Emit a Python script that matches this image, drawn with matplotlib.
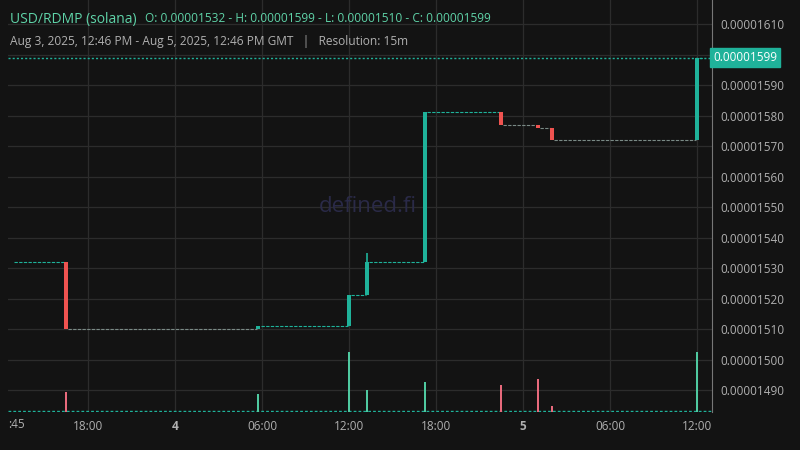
import matplotlib
matplotlib.use("Agg")
import matplotlib.pyplot as plt
import numpy as np

# hours relative to Aug 4 2025 00:00 GMT; prices in units of 1e-8
trade_t = [-7.5, 5.75, 12.0, 13.25, 17.25, 22.5, 25.0, 26.0, 36.0]
trade_o = [1532, 1510, 1511, 1521, 1532, 1581, 1577, 1576, 1572]
trade_c = [1510, 1511, 1521, 1532, 1581, 1577, 1576, 1572, 1599]
trade_h = [1532, 1511, 1521, 1535, 1581, 1581, 1577, 1576, 1599]
trade_l = [1510, 1510, 1511, 1521, 1532, 1577, 1576, 1572, 1572]
trade_v = [20, 18, 60, 22, 30, 27, 33, 6, 60]
start_t, end_t = -11.25, 36.5
start_price = 1532
tick_pos = [-6, 0, 6, 12, 18, 24, 30, 36]
tick_lab = ["18:00", "4", "06:00", "12:00", "18:00", "5", "06:00", "12:00"]
price_ticks = list(range(1490, 1611, 10))

BG = "#131313"; GREEN = "#1fb29a"; RED = "#ef5350"
VGREEN = "#4fc9a0"; VRED = "#e86a7c"; TXT = "#b0b0b0"

fig = plt.figure(figsize=(8, 4.5), dpi=100, facecolor=BG)
ax = fig.add_axes([8/800, 38/450, 704/800, 412/450])
ax.set_facecolor(BG)
ax.set_xlim(-11.52, 37.03)
ax.set_ylim(1482.79, 1617.87)

for y in price_ticks:
    ax.axhline(y, color="#2c2c2c", lw=0.9, zorder=0)
for x in tick_pos:
    ax.axvline(x, color="#2c2c2c", lw=0.9, zorder=0)

# flat segments between trades
seg_t = [start_t] + trade_t + [end_t]
seg_p = [start_price] + trade_c
for i in range(len(seg_p)):
    a, b = seg_t[i] + 0.15, seg_t[i + 1] - 0.1
    if b > a:
        col = GREEN if i == 0 else ("#7a8a86" if trade_c[i-1] < trade_o[i-1] else GREEN)
        ax.hlines(seg_p[i], a, b, colors=col, lw=0.8, linestyles=(0, (3, 1.2)), zorder=2)

for t, o, c, h, l in zip(trade_t, trade_o, trade_c, trade_h, trade_l):
    col = GREEN if c >= o else RED
    ax.vlines(t, l, h, colors=col, lw=1.2, zorder=3)
    ax.bar(t, abs(c - o), bottom=min(o, c), width=0.27, color=col, zorder=3)

# volume
vax = ax.twinx()
vax.set_ylim(0, 412)
vax.axis("off")
vcols = [VGREEN if c >= o else VRED for o, c in zip(trade_o, trade_c)]
vax.bar(trade_t, trade_v, width=0.14, color=vcols, zorder=3)
vax.axhline(1.2, color=GREEN, lw=1, ls=(0, (2, 1.5)))

# last price line
ax.axhline(trade_c[-1], color=GREEN, lw=1, ls=(0, (1.5, 1.5)), zorder=4)

ax.text(360/704, 1-207/412, "defined.fi", transform=ax.transAxes, color="#2a2a48",
        fontsize=16, ha="center", va="center", family="Open Sans")

ax.yaxis.tick_right()
ax.set_yticks(price_ticks)
ax.set_yticklabels(["" if p == 1600 else f"0.0000{p}" for p in price_ticks])
ax.set_xticks(tick_pos)
ax.set_xticklabels(tick_lab)
for lbl in ax.get_xticklabels():
    if lbl.get_text() in ("4", "5"):
        lbl.set_fontweight("bold")
ax.tick_params(colors=TXT, labelsize=8.5, length=0, pad=6)
for lab in ax.get_xticklabels() + ax.get_yticklabels():
    lab.set_family("Open Sans")
for s in ["top", "left", "bottom"]:
    ax.spines[s].set_visible(False)
ax.spines["right"].set_color("#777777")

fig.text(8/800, 1-425/450, ":45", color=TXT, fontsize=8.5, va="center", family="Open Sans")
ax.text(1.002, (trade_c[-1]-1482.79)/(1617.87-1482.79), "0.00001599", transform=ax.transAxes,
        color="white", fontsize=8.5, va="center", ha="left", family="Open Sans",
        bbox=dict(boxstyle="square,pad=0.25", fc=GREEN, ec=GREEN))

fig.text(10/800, 1-19/450, "USD/RDMP (solana)", color="#5fd3a8", fontsize=10, va="center", family="Open Sans")
fig.text(145/800, 1-19/450, "O: 0.00001532 - H: 0.00001599 - L: 0.00001510 - C: 0.00001599",
         color="#5fd3a8", fontsize=8.6, va="center", family="Open Sans")
fig.text(10/800, 1-41/450, "Aug 3, 2025, 12:46 PM - Aug 5, 2025, 12:46 PM GMT   |   Resolution: 15m",
         color=TXT, fontsize=8.6, va="center", family="Open Sans")

fig.savefig("out.png", dpi=100, facecolor=BG)
